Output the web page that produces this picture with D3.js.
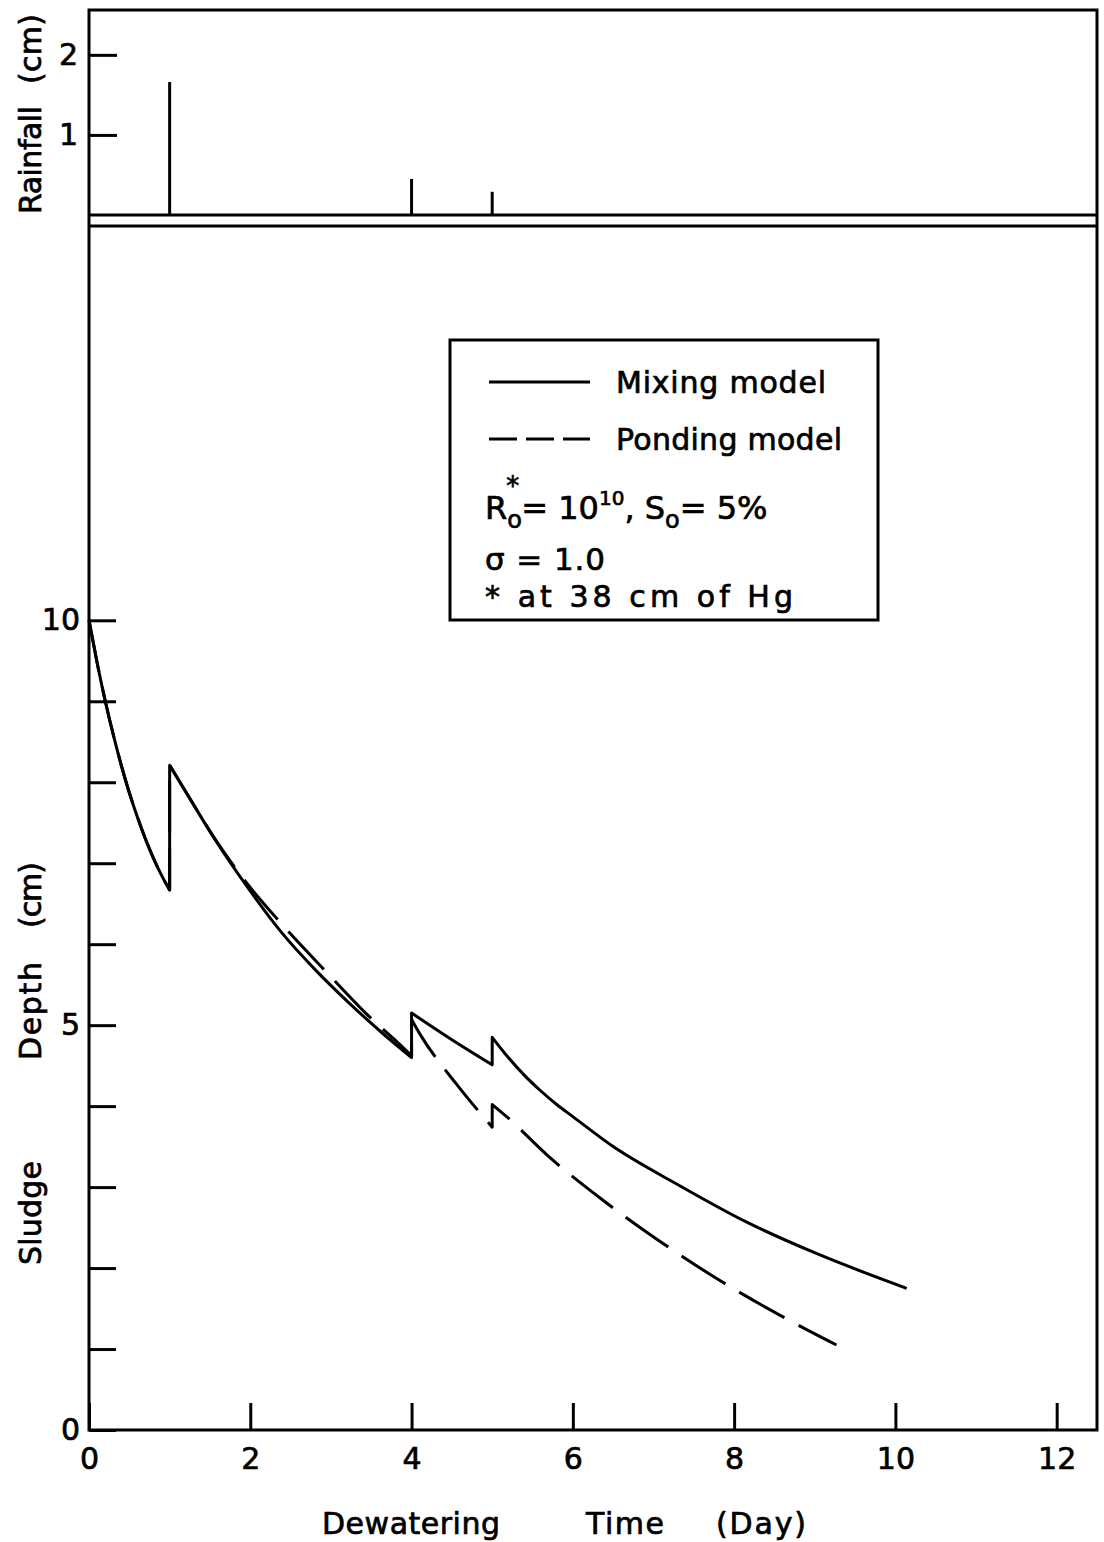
<!DOCTYPE html>
<html>
<head>
<meta charset="utf-8">
<script src="https://cdn.jsdelivr.net/npm/d3@7"></script>
<style>
  body { margin: 0; background: #fff; }
  svg { display: block; }
  text { font-family: "DejaVu Sans", sans-serif; fill: #000; stroke: #000; stroke-width: 0.7px; }
</style>
</head>
<body>
<svg id="chart" width="1104" height="1542"></svg>
<script>
// ---- data ----
const rainDays = [1, 4, 5];
const rainDepths = [1.66, 0.45, 0.29];   // cm

const xTicks = [0, 2, 4, 6, 8, 10, 12];
const depthTicks = [0, 1, 2, 3, 4, 5, 6, 7, 8, 9, 10];
const depthLabels = [0, 5, 10];
const rainTicks = [1, 2];

// Mixing model: [day, depth cm], one run between rain events
const mixRun1 = [[0, 10], [0.1, 9.48], [0.2, 9.01], [0.3, 8.59], [0.4, 8.21], [0.5, 7.87], [0.6, 7.57], [0.7, 7.3], [0.8, 7.06], [0.9, 6.85], [1, 6.67]];
const mixRun2 = [[1, 8.21], [1.25, 7.8], [1.57, 7.28], [1.99, 6.67], [2.4, 6.13], [2.81, 5.68], [3.23, 5.27], [3.64, 4.9], [4, 4.6]];
const mixRun3 = [[4, 5.15], [4.5, 4.82], [5, 4.51]];
const mixRun4 = [[5, 4.85], [5.2, 4.6], [5.4, 4.38], [5.6, 4.19], [5.8, 4.02], [6, 3.87], [6.5, 3.5], [7.32, 3.02], [8.15, 2.57], [9.02, 2.18], [10.14, 1.75]];

// Ponding model
const pondRun1 = [[0, 10], [0.1, 9.48], [0.2, 9.01], [0.3, 8.59], [0.4, 8.21], [0.5, 7.87], [0.6, 7.57], [0.7, 7.3], [0.8, 7.06], [0.9, 6.85], [1, 6.67]];
const pondRun2 = [[1, 8.21], [1.25, 7.8], [1.57, 7.29], [1.96, 6.75], [2.38, 6.26], [2.95, 5.65], [3.45, 5.13], [3.93, 4.69], [4, 4.62]];
const pondRun3 = [[4, 5.07], [4.11, 4.88], [4.55, 4.28], [5, 3.74]];
const pondRun4 = [[5, 4.02], [5.19, 3.86], [5.71, 3.37], [6.37, 2.84], [7.05, 2.35], [7.85, 1.83], [8.6, 1.4], [9.27, 1.05]];

// ---- layout ----
const svg = d3.select("#chart");
const frameL = 89, frameR = 1097, frameT = 10, rainBase = 215, mainTop = 226, axisY = 1430;
const depthTop = 14.87, rainTop = 2.56, dayMax = 12.5;
const SW = 3;
const FONT = '"DejaVu Sans", sans-serif';

const x = d3.scaleLinear().domain([0, dayMax]).range([frameL, frameR]);
const yRain = d3.scaleLinear().domain([0, rainTop]).range([rainBase, frameT]);
const yDepth = d3.scaleLinear().domain([0, depthTop]).range([axisY, mainTop]);

// ---- frame ----
svg.append("path")
  .attr("d", `M${frameL},${frameT}H${frameR}V${axisY}H${frameL}Z`)
  .attr("fill", "none").attr("stroke", "#000").attr("stroke-width", SW);
[rainBase, mainTop].forEach(yy => {
  svg.append("line").attr("x1", frameL).attr("x2", frameR).attr("y1", yy).attr("y2", yy)
    .attr("stroke", "#000").attr("stroke-width", SW);
});

function styleAxis(g, size) {
  g.select(".domain").remove();
  g.selectAll(".tick line").attr("stroke", "#000").attr("stroke-width", SW);
  g.selectAll(".tick text").attr("font-size", size).attr("fill", "#000").attr("font-family", FONT);
}

// rainfall axis
svg.append("g").attr("transform", `translate(${frameL},0)`)
  .call(d3.axisLeft(yRain).tickValues(rainTicks).tickSizeInner(-28).tickSizeOuter(0).tickPadding(11).tickFormat(d3.format("d")))
  .call(g => styleAxis(g, 30));

// depth axis
svg.append("g").attr("transform", `translate(${frameL},0)`)
  .call(d3.axisLeft(yDepth).tickValues(depthTicks).tickSizeInner(-27).tickSizeOuter(0).tickPadding(9)
    .tickFormat(d => depthLabels.includes(d) ? d : ""))
  .call(g => styleAxis(g, 30));

// time axis
svg.append("g").attr("transform", `translate(0,${axisY})`)
  .call(d3.axisBottom(x).tickValues(xTicks).tickSizeInner(-27).tickSizeOuter(0).tickPadding(18))
  .call(g => styleAxis(g, 30));

// ---- rainfall bars ----
svg.append("g").selectAll("line").data(rainDays).join("line")
  .attr("x1", d => x(d)).attr("x2", d => x(d))
  .attr("y1", yRain(0)).attr("y2", (d, i) => yRain(rainDepths[i]))
  .attr("stroke", "#000").attr("stroke-width", SW);

// ---- depth curves ----
const lineGen = d3.line().x(d => x(d[0])).y(d => yDepth(d[1])).curve(d3.curveMonotoneX);
function runsPath(runs) {
  // each run is smooth; the vertical rise at a rain event joins consecutive runs
  return runs.map((r, i) => {
    const p = lineGen(r);
    return i === 0 ? p : "L" + p.slice(1);
  }).join("");
}

svg.append("path")
  .attr("d", runsPath([pondRun1, pondRun2, pondRun3, pondRun4]))
  .attr("fill", "none").attr("stroke", "#000").attr("stroke-width", SW)
  .attr("stroke-dasharray", "52,16").attr("stroke-linejoin", "round");

svg.append("path")
  .attr("d", runsPath([mixRun1, mixRun2, mixRun3, mixRun4]))
  .attr("fill", "none").attr("stroke", "#000").attr("stroke-width", SW)
  .attr("stroke-linejoin", "round");

// ---- legend ----
const lg = svg.append("g");
lg.append("rect").attr("x", 450).attr("y", 340).attr("width", 428).attr("height", 280)
  .attr("fill", "#fff").attr("stroke", "#000").attr("stroke-width", SW);
lg.append("line").attr("x1", 489).attr("x2", 590).attr("y1", 382).attr("y2", 382)
  .attr("stroke", "#000").attr("stroke-width", SW);
lg.append("line").attr("x1", 489).attr("x2", 590).attr("y1", 439).attr("y2", 439)
  .attr("stroke", "#000").attr("stroke-width", SW).attr("stroke-dasharray", "28,9");
lg.append("text").attr("x", 616).attr("y", 393).attr("font-size", 30)
  .attr("textLength", 210).attr("lengthAdjust", "spacing").text("Mixing model");
lg.append("text").attr("x", 616).attr("y", 450).attr("font-size", 30)
  .attr("textLength", 226).attr("lengthAdjust", "spacing").text("Ponding model");

const rLine = lg.append("text").attr("x", 485).attr("y", 519).attr("font-size", 32);
rLine.append("tspan").text("R");
const sub1 = rLine.append("tspan").attr("font-size", 24).attr("dy", 9).text("o");
const star = rLine.append("tspan").attr("font-size", 26).attr("dy", -33).text("*");
rLine.append("tspan").attr("dy", 24).attr("dx", 2).text("= 10");
rLine.append("tspan").attr("font-size", 20).attr("dy", -14).text("10");
rLine.append("tspan").attr("dy", 14).text(",  S");
rLine.append("tspan").attr("font-size", 24).attr("dy", 9).text("o");
rLine.append("tspan").attr("dy", -9).text("= 5%");
star.attr("dx", -sub1.node().getComputedTextLength() - 1);

lg.append("text").attr("x", 485).attr("y", 570).attr("font-size", 31)
  .attr("textLength", 120).attr("lengthAdjust", "spacing").text("σ = 1.0");
lg.append("text").attr("x", 485).attr("y", 607).attr("font-size", 30)
  .attr("textLength", 308).attr("lengthAdjust", "spacing").text("* at 38 cm  of Hg");

// ---- axis titles ----
const xTitle = [["Dewatering", 322, 178], ["Time", 586, 78], ["(Day)", 716, 90]];
svg.append("g").selectAll("text").data(xTitle).join("text")
  .attr("x", d => d[1]).attr("y", 1534).attr("font-size", 30)
  .attr("textLength", d => d[2]).attr("lengthAdjust", "spacing")
  .text(d => d[0]);

// rotated titles: [text, lower end y, length]
const depthTitle = [["Sludge", 1265, 104], ["Depth", 1060, 98], ["(cm)", 928, 66]];
const rainTitle = [["Rainfall", 214, 108], ["(cm)", 84, 70]];
svg.append("g").selectAll("text").data(depthTitle.concat(rainTitle)).join("text")
  .attr("transform", d => `translate(41,${d[1]}) rotate(-90)`)
  .attr("font-size", 30)
  .attr("textLength", d => d[2]).attr("lengthAdjust", "spacing")
  .text(d => d[0]);
</script>
</body>
</html>
